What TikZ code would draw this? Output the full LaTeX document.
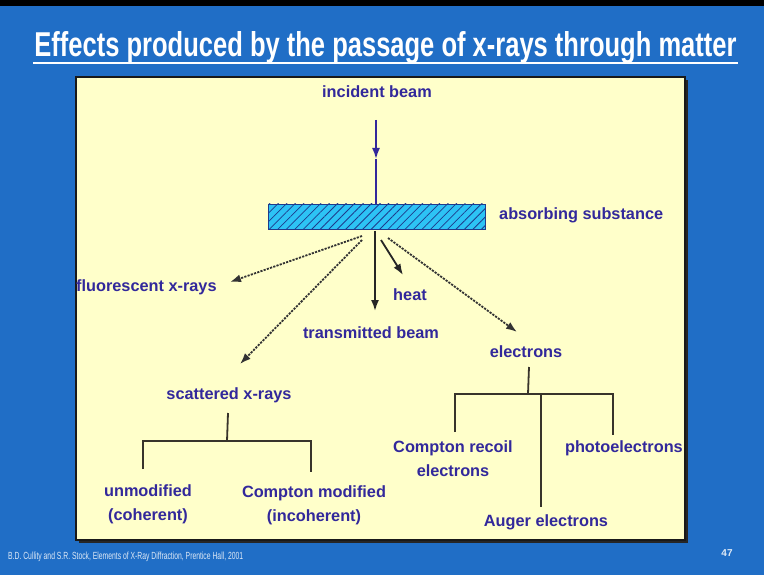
\documentclass[tikz,border=0pt]{standalone}
\usepackage{fontspec}
\setmainfont{Liberation Sans}
\usetikzlibrary{arrows.meta,patterns.meta,calc}
\definecolor{bgblue}{RGB}{32,110,198}
\definecolor{paleyellow}{RGB}{255,255,202}
\definecolor{barcyan}{RGB}{45,195,245}
\definecolor{txtblue}{RGB}{50,40,155}
\definecolor{hatchblue}{RGB}{30,60,140}
\tikzset{
  lbl/.style={text=txtblue, font=\fontsize{16.3}{18}\selectfont\bfseries, inner sep=0pt, align=center},
  solidarrow/.style={line width=1.8pt, draw=black!85, -{Latex[length=11pt,width=8pt]}},
  dasharrow/.style={line width=1.8pt, draw=black!80, dash pattern=on 2.2pt off 1.2pt, -{Latex[length=11pt,width=8pt]}},
  treeline/.style={line width=1.8pt, draw=black!80!olive},
}
\begin{document}
\begin{tikzpicture}[x=1pt,y=-1pt]
\useasboundingbox (0,0) rectangle (764,575);
\fill[bgblue] (0,0) rectangle (764,575);
\fill[black] (0,0) rectangle (764,6);
% title
\node[anchor=base, text=white, inner sep=0pt] (title) at (385.5,57)
  {\resizebox{702pt}{25pt}{\bfseries Effects produced by the passage of x-rays through matter}};
\draw[white, line width=2pt] (33,63.5) -- (738,63.5);
% panel
\fill[black!85] (79,80) rectangle (688,543);
\draw[fill=paleyellow, draw=black!90, line width=2pt] (76,77) rectangle (685,540);
% slab
\node[draw=hatchblue, line width=0.8pt, fill=barcyan,
  postaction={pattern={Lines[angle=45,distance=6pt,line width=0.8pt]}, pattern color=hatchblue},
  minimum width=217pt, minimum height=25pt, inner sep=0pt] (slab) at (376.5,216.5) {};
% labels
\node[lbl] (inc) at (377,92) {incident beam};
\node[lbl, anchor=west] (abs) at (499,215) {absorbing substance};
\node[lbl, anchor=west] (fluo) at (76,287) {fluorescent x-rays};
\node[lbl] (heat) at (410,295) {heat};
\node[lbl] (trans) at (371,333) {transmitted beam};
\node[lbl] (elec) at (526,352) {electrons};
\node[lbl] (scat) at (229,395) {scattered x-rays};
\node[lbl] (unmod) at (148,504) {unmodified\\[6pt](coherent)};
\node[lbl] (compmod) at (314,505) {Compton modified\\[6pt](incoherent)};
\node[lbl] (recoil) at (453,459) {Compton recoil\\[6pt]electrons};
\node[lbl, anchor=east] (photo) at (683,448) {photoelectrons};
\node[lbl] (auger) at (546,522) {Auger electrons};
% incident beam
\coordinate (beamtop) at (376,120);
\coordinate (beammid) at (376,159);
\draw[line width=1.8pt, draw=txtblue, -{Latex[length=11pt,width=8pt]}] (beamtop) -- (beammid);
\draw[line width=1.8pt, draw=txtblue] (beammid) -- (slab.north -| beammid);
% arrows from slab
\coordinate (sF) at (362,236);
\coordinate (sS) at (362,240);
\coordinate (sT) at (375,231);
\coordinate (sH) at (381,240);
\coordinate (sE) at (388,238);
\coordinate (tF) at (230,282);
\coordinate (tS) at (240,364);
\coordinate (tT) at (375,311);
\coordinate (tH) at (403,275);
\coordinate (tE) at (517,332);
\draw[dasharrow] (sF) -- (tF);
\draw[dasharrow] (sS) -- (tS);
\draw[solidarrow] (sT) -- (tT);
\draw[solidarrow] (sH) -- (tH);
\draw[dasharrow] (sE) -- (tE);
% scattered tree
\coordinate (sc0) at (228,413);
\coordinate (sc1) at (227,441);
\coordinate (scL) at (143,441);
\coordinate (scR) at (311,441);
\coordinate (scLb) at (143,469);
\coordinate (scRb) at (311,472);
\draw[treeline] (sc0) -- (sc1);
\draw[treeline] (scLb) -- (scL) -- (scR) -- (scRb);
% electrons tree
\coordinate (el0) at (529,367);
\coordinate (el1) at (528,394);
\coordinate (elL) at (455,394);
\coordinate (elM) at (541,394);
\coordinate (elR) at (613,394);
\coordinate (elLb) at (455,432);
\coordinate (elMb) at (541,507);
\coordinate (elRb) at (613,435);
\draw[treeline] (el0) -- (el1);
\draw[treeline] (elLb) -- (elL) -- (elR) -- (elRb);
\draw[treeline] (elM) -- (elMb);
% footer
\node[anchor=west, text=white!85!bgblue, inner sep=0pt] (foot) at (8,557)
  {\resizebox{235pt}{7.5pt}{B.D. Cullity and S.R. Stock, Elements of X-Ray Diffraction, Prentice Hall, 2001}};
\node[text=white!85!bgblue, inner sep=0pt, font=\fontsize{10}{11}\selectfont\bfseries] (pg) at (727,553) {47};
\end{tikzpicture}
\end{document}
